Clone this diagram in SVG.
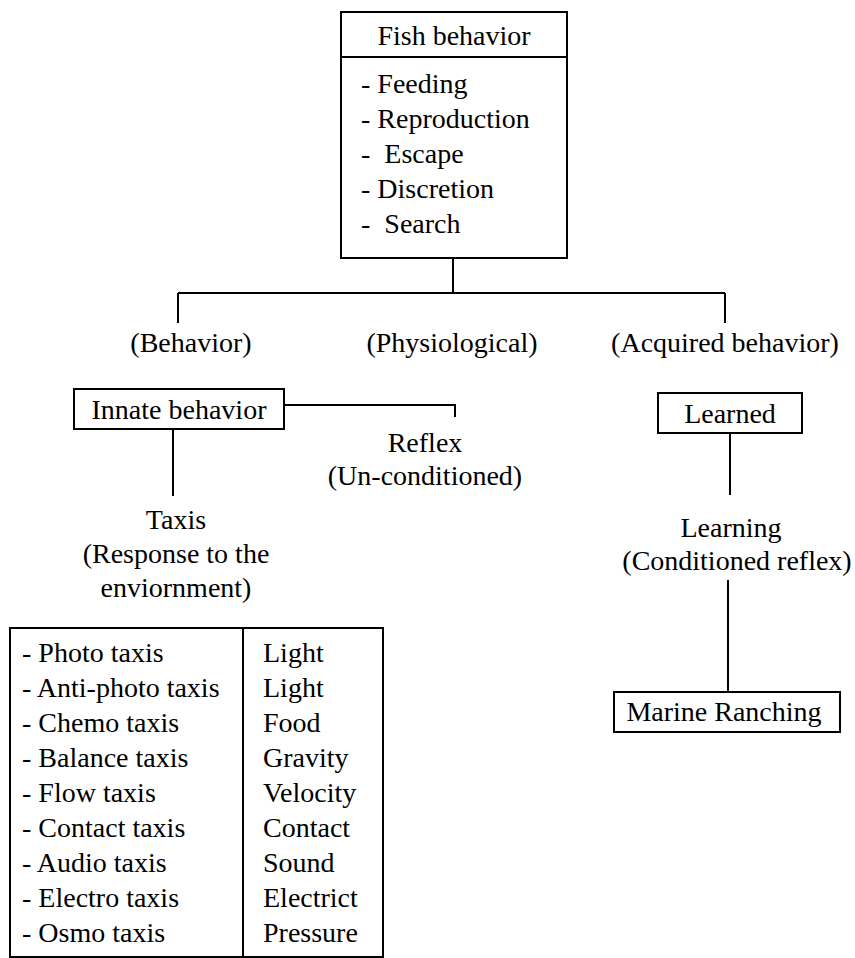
<svg xmlns="http://www.w3.org/2000/svg" width="855" height="958" viewBox="0 0 855 958">
  <style>
    .box { fill: #ffffff; stroke: #000000; stroke-width: 2; }
    .ln { fill: none; stroke: #000000; stroke-width: 2; }
    text { font-family: "Liberation Serif", "Times New Roman", serif; font-size: 28px; fill: #000000; }
    .c { text-anchor: middle; }
  </style>
  <rect width="855" height="958" fill="#ffffff"/>

  <!-- connectors -->
  <g id="connectors">
    <path class="ln" d="M453 258 V293"/>
    <path class="ln" d="M178 293 H725"/>
    <path class="ln" d="M178 293 V323"/>
    <path class="ln" d="M725 293 V323"/>
    <path class="ln" d="M284 405 H455 V417"/>
    <path class="ln" d="M173 429 V496"/>
    <path class="ln" d="M730 433 V495"/>
    <path class="ln" d="M728 580 V692"/>
  </g>

  <!-- root node -->
  <g id="fish-behavior">
    <rect class="box" x="341" y="12" width="226" height="246"/>
    <line class="ln" x1="341" y1="57" x2="567" y2="57"/>
    <text class="c" x="454" y="45">Fish behavior</text>
    <text x="361" y="93">- Feeding</text>
    <text x="361" y="128">- Reproduction</text>
    <text x="361" y="163" xml:space="preserve">-  Escape</text>
    <text x="361" y="198">- Discretion</text>
    <text x="361" y="233" xml:space="preserve">-  Search</text>
  </g>

  <!-- branch labels -->
  <g id="behavior"><text class="c" x="191" y="352">(Behavior)</text></g>
  <g id="physiological"><text class="c" x="452" y="352">(Physiological)</text></g>
  <g id="acquired"><text class="c" x="725" y="352">(Acquired behavior)</text></g>

  <g id="innate">
    <rect class="box" x="74" y="389" width="210" height="40"/>
    <text class="c" x="179" y="419">Innate behavior</text>
  </g>

  <g id="reflex">
    <text class="c" x="425" y="452">Reflex</text>
    <text class="c" x="425" y="485">(Un-conditioned)</text>
  </g>

  <g id="taxis">
    <text class="c" x="176" y="529">Taxis</text>
    <text class="c" x="176" y="563">(Response to the</text>
    <text class="c" x="176" y="597">enviornment)</text>
  </g>

  <g id="learned">
    <rect class="box" x="658" y="393" width="144" height="40"/>
    <text class="c" x="730" y="423">Learned</text>
  </g>

  <g id="learning">
    <text class="c" x="731" y="537">Learning</text>
    <text class="c" x="737" y="570">(Conditioned reflex)</text>
  </g>

  <g id="marine-ranching">
    <rect class="box" x="614" y="692" width="226" height="40"/>
    <text class="c" x="724" y="721">Marine Ranching</text>
  </g>

  <!-- taxis / stimulus table -->
  <g id="taxis-table">
    <rect class="box" x="10" y="628" width="373" height="329"/>
    <line class="ln" x1="243" y1="628" x2="243" y2="957"/>
    <text x="22" y="662">- Photo taxis</text>
    <text x="22" y="697">- Anti-photo taxis</text>
    <text x="22" y="732">- Chemo taxis</text>
    <text x="22" y="767">- Balance taxis</text>
    <text x="22" y="802">- Flow taxis</text>
    <text x="22" y="837">- Contact taxis</text>
    <text x="22" y="872">- Audio taxis</text>
    <text x="22" y="907">- Electro taxis</text>
    <text x="22" y="942">- Osmo taxis</text>
    <text x="263" y="662">Light</text>
    <text x="263" y="697">Light</text>
    <text x="263" y="732">Food</text>
    <text x="263" y="767">Gravity</text>
    <text x="263" y="802">Velocity</text>
    <text x="263" y="837">Contact</text>
    <text x="263" y="872">Sound</text>
    <text x="263" y="907">Electrict</text>
    <text x="263" y="942">Pressure</text>
  </g>
</svg>
